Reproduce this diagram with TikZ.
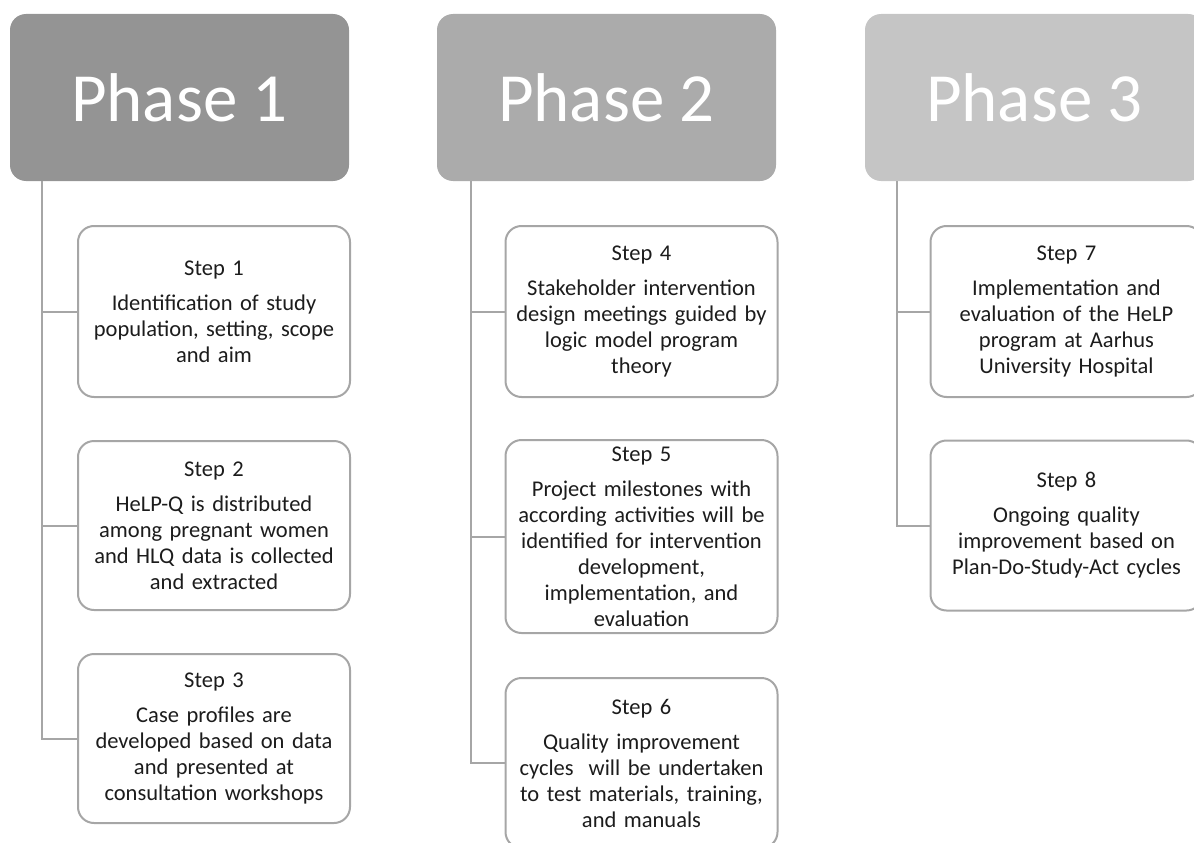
\documentclass[tikz,border=0pt]{standalone}
\usepackage{fontspec}
\setmainfont{Carlito}
\usepackage{tikz}
\usetikzlibrary{positioning,calc}
\usepackage{xcolor}
\definecolor{phaseone}{RGB}{148,148,148}
\definecolor{phasetwo}{RGB}{171,171,171}
\definecolor{phasethree}{RGB}{197,197,197}
\definecolor{stepline}{RGB}{166,166,166}
\definecolor{steptext}{RGB}{28,28,28}

\tikzset{
    phasebox/.style={rectangle,rounded corners=16pt,minimum width=339pt,minimum height=167pt,
        text=white,font=\fontsize{69}{74}\selectfont},
    stepbox/.style={rectangle,draw=stepline,line width=2pt,rounded corners=16pt,fill=white,
        minimum width=272pt,text width=264pt,align=center,text=steptext,
        font=\fontsize{22.5}{26}\selectfont},
    link/.style={draw=stepline,line width=2pt}
}

\begin{document}
\begin{tikzpicture}[x=1pt,y=-1pt]
        \useasboundingbox (0,0) rectangle (1194,843);
        \clip (0,0) rectangle (1194,843);

        % Phase 1
        \node[phasebox,fill=phaseone] (ph1) at (179.5,97.5) {Phase 1};
        \node[stepbox,minimum height=171pt] (s1) at (214,311.5) {
            Step 1\\[9pt]
            Identification of study\\ population, setting, scope\\ and aim
        };
        \node[stepbox,minimum height=169pt] (s2) at (214,525.5) {
            Step 2\\[9pt]
            HeLP-Q is distributed\\ among pregnant women\\ and HLQ data is collected\\ and extracted
        };
        \node[stepbox,minimum height=169pt] (s3) at (214,738.5) {
            Step 3\\[9pt]
            Case profiles are\\ developed based on data\\ and presented at\\ consultation workshops
        };

        % Phase 2
        \node[phasebox,fill=phasetwo] (ph2) at (606.5,97.5) {Phase 2};
        \node[stepbox,minimum height=171pt] (s4) at (641.5,311.5) {
            Step 4\\[9pt]
            Stakeholder intervention\\ design meetings guided by\\ logic model program\\ theory
        };
        \node[stepbox,minimum height=193pt] (s5) at (641.5,536.5) {
            Step 5\\[9pt]
            Project milestones with\\ according activities will be\\ identified for intervention\\ development,\\ implementation, and\\ evaluation
        };
        \node[stepbox,minimum height=170pt] (s6) at (641.5,763) {
            Step 6\\[9pt]
            Quality improvement\\ cycles\ \ will be undertaken\\ to test materials, training,\\ and manuals
        };

        % Phase 3
        \node[phasebox,fill=phasethree] (ph3) at (1034.5,97.5) {Phase 3};
        \node[stepbox,minimum height=171pt] (s7) at (1066.5,311.5) {
            Step 7\\[9pt]
            Implementation and\\ evaluation of the HeLP\\ program at Aarhus\\ University Hospital
        };
        \node[stepbox,minimum height=170pt] (s8) at (1066.5,525.5) {
            Step 8\\[9pt]
            Ongoing quality\\ improvement based on\\ Plan-Do-Study-Act cycles
        };

        % Connectors
        \coordinate (r1) at ($(ph1.south west)+(32,0)$);
        \coordinate (r2) at ($(ph2.south west)+(34,0)$);
        \coordinate (r3) at ($(ph3.south west)+(32,0)$);
        \draw[link] (r1) |- (s3.west);
        \draw[link] (r1 |- s1.west) -- (s1.west);
        \draw[link] (r1 |- s2.west) -- (s2.west);
        \draw[link] (r2) |- (s6.west);
        \draw[link] (r2 |- s4.west) -- (s4.west);
        \draw[link] (r2 |- s5.west) -- (s5.west);
        \draw[link] (r3) |- (s8.west);
        \draw[link] (r3 |- s7.west) -- (s7.west);
    \end{tikzpicture}
\end{document}
